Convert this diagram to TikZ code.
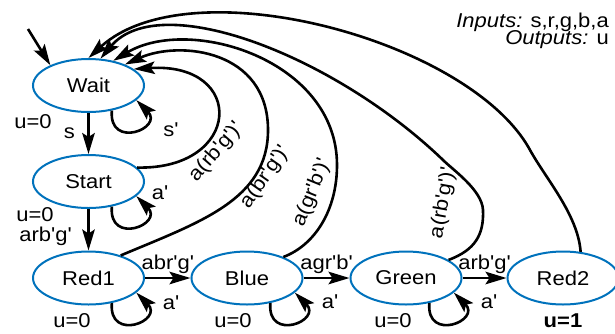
\documentclass[tikz,border=0pt]{standalone}
\usepackage{fontspec}
\newfontfamily\diagfont{Liberation Sans}[FakeStretch=1.1]
\usetikzlibrary{arrows.meta,positioning,calc,shapes.geometric}
\definecolor{stateblue}{RGB}{0,114,188}

\begin{document}
\begin{tikzpicture}[
  x=1pt, y=1pt,
  >={Stealth[length=21pt,width=12.5pt,inset=4pt]},
  every node/.style={font=\diagfont\fontsize{20}{24}\selectfont},
  state/.style={draw=stateblue, line width=2pt, ellipse, minimum width=111pt, minimum height=53pt, inner sep=0pt},
  arr/.style={->, line width=2.6pt},
  io/.style={font=\diagfont\fontsize{20}{22}\selectfont, inner sep=0pt, anchor=base east},
]
  \useasboundingbox (0,0) rectangle (615,-333);

  % states
  \node[state] (Wait)  at (88.5,-85.5) {Wait};
  \node[state] (Start) at (88.5,-181.5) {Start};
  \node[state] (Red1)  at (88.5,-278) {Red1};
  \node[state] (Blue)  at (247,-278) {Blue};
  \node[state] (Green) at (406,-278) {Green};
  \node[state] (Red2)  at (563,-278) {Red2};

  % outputs
  \node (oWait)  at ($(Wait)+(-55.5,-36.5)$) {u=0};
  \node (oStart) at ($(Start)+(-53.5,-33.5)$) {u=0};
  \node (oRed1)  at ($(Red1)+(-16.5,-43)$) {u=0};
  \node (oBlue)  at ($(Blue)+(-14,-43)$) {u=0};
  \node (oGreen) at ($(Green)+(-13,-43)$) {u=0};
  \node (oRed2)  at ($(Red2)+(0,-43)$) {\bfseries u=1};

  \node[io] (inputs)  at (609,-27) {\textit{Inputs:} s,r,g,b,a};
  \node[io] (outputs) at (609,-44) {\textit{Outputs:} u};

  % forward transitions
  \coordinate (init) at (28,-29);
  \draw[arr] (init) -- (Wait.152);
  \draw[arr] (Wait.south) -- node[left=9pt] (ls) {s} (Start.north);
  \draw[arr] (Start.south) -- node[pos=0.67, left=12pt] (lsr) {arb'g'} (Red1.north);
  \draw[arr] (Red1) -- node[above] (lrb) {abr'g'} (Blue);
  \draw[arr] (Blue) -- node[above] (lbg) {agr'b'} (Green);
  \draw[arr] (Green) -- node[above] (lgr) {arb'g'} (Red2);

  % self loops
  \foreach \st in {Wait,Start,Red1,Blue,Green}
    \draw[arr] (\st.-47) to[out=-95, in=-45, looseness=3.8] (\st.-17);
  \node (pWait)  at ($(Wait)+(82.5,-44.5)$) {s'};
  \node (pStart) at ($(Start)+(71.5,-11.5)$) {a'};
  \node (pRed1)  at ($(Red1)+(82.5,-25)$) {a'};
  \node (pBlue)  at ($(Blue)+(83,-24)$) {a'};
  \node (pGreen) at ($(Green)+(83,-24)$) {a'};

  % back to Wait
  \draw[arr] (Start.16) .. controls (242,-170) and (247,-62) .. (Wait.20);
  \draw[arr] (Red1.35) .. controls (200,-222) and (268,-200) .. (268,-130)
    .. controls (268,-50) and (180,-40) .. (Wait.30);
  \draw[arr] (Blue.30) .. controls (315,-245) and (337,-210) .. (337,-165)
    .. controls (337,-60) and (190,-15) .. (Wait.45);
  \draw[arr] (Green.23) .. controls (475,-250) and (484,-235) .. (483,-210)
    .. controls (482,-190) and (453,-170) .. (443,-160)
    .. controls (335,-56) and (160,12) .. (Wait.66);
  \draw[arr] (Red2.56) .. controls (578,-215) and (546,-179) .. (530,-150)
    .. controls (470,-40) and (190,35) .. (Wait.north);

  \node[rotate=49] (lStart) at (216,-152) {a(rb'g')'};
  \node[rotate=55] (lRed1)  at (265,-177) {a(br'g')'};
  \node[rotate=68] (lBlue)  at (312,-193) {a(gr'b')'};
  \node[rotate=80] (lGreen) at (443,-203) {a(rb'g')'};
\end{tikzpicture}
\end{document}
